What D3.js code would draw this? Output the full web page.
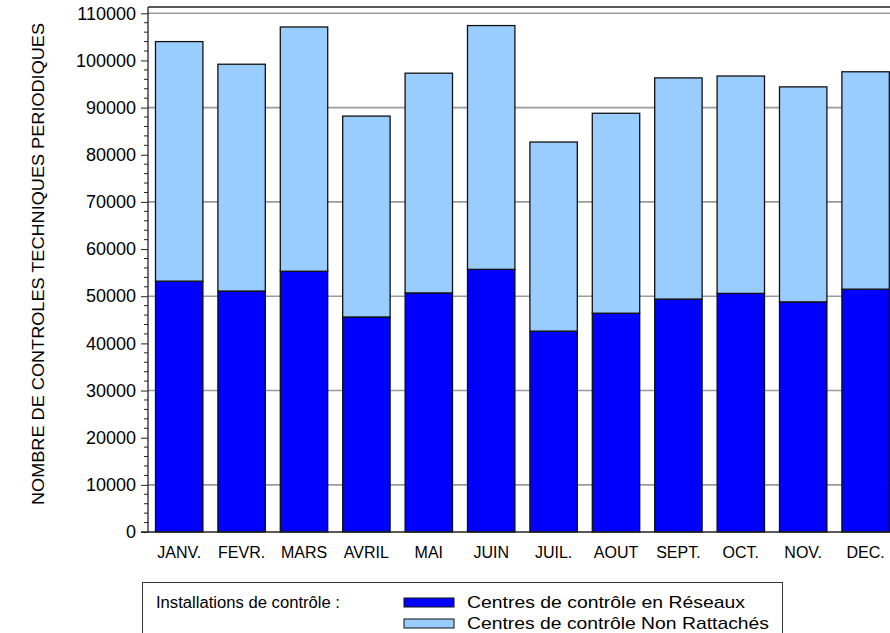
<!DOCTYPE html>
<html><head><meta charset="utf-8">
<script src="https://cdn.jsdelivr.net/npm/d3@7"></script>
<style>body{margin:0;background:#fff;} text{font-family:"Liberation Sans",Arial,sans-serif;fill:#000;}</style>
</head><body>
<svg id="c" width="890" height="633"></svg>
<script>
const months = ["JANV.","FEVR.","MARS","AVRIL","MAI","JUIN","JUIL.","AOUT","SEPT.","OCT.","NOV.","DEC."];
const reseaux = [53200,51100,55300,45600,50700,55700,42600,46400,49400,50600,48800,51500];
const nonRattaches = [50800,48100,51800,42600,46600,51700,40100,42400,46900,46100,45600,46100];
const yTicks = [0,10000,20000,30000,40000,50000,60000,70000,80000,90000,100000,110000];
const gridValues = [10000,30000,50000,70000,90000,110000];
const seriesNames = ["Centres de contrôle en Réseaux","Centres de contrôle Non Rattachés"];
const seriesColors = ["#0000ff","#99ccff"];
const legendTitle = "Installations de contrôle :";
const yTitle = "NOMBRE DE CONTROLES TECHNIQUES PERIODIQUES";

const svg = d3.select("#c");
const pLeft = 148, pRight = 896.8, pTop = 7, pBottom = 532;
const x = d3.scaleBand().domain(months).range([pLeft, pRight]).paddingInner(0.24).paddingOuter(0.12);
const y = d3.scaleLinear().domain([0,110000]).range([pBottom, 13.3]);

// gridlines
svg.append("g").selectAll("line").data(gridValues).join("line")
  .attr("x1", pLeft).attr("x2", 890).attr("y1", d=>y(d)).attr("y2", d=>y(d))
  .attr("stroke","#9a9a9a").attr("stroke-width",1.6);

// frame top
svg.append("line").attr("x1",pLeft).attr("x2",890).attr("y1",pTop).attr("y2",pTop).attr("stroke","#222").attr("stroke-width",1.3);

// bars
const table = months.map((m,i)=>({month:m, a:reseaux[i], b:nonRattaches[i]}));
const stack = d3.stack().keys(["a","b"])(table);
svg.append("g").selectAll("g").data(stack).join("g")
  .attr("fill",(d,i)=>seriesColors[i])
  .selectAll("rect").data(d=>d).join("rect")
  .attr("x", d=>x(d.data.month)).attr("width", x.bandwidth())
  .attr("y", d=>y(d[1])).attr("height", d=>y(d[0])-y(d[1]))
  .attr("stroke","#111").attr("stroke-width",1.3);

// y axis
const yAxis = d3.axisLeft(y).tickValues(yTicks).tickFormat(d3.format("d")).tickSize(7).tickPadding(5);
const gy = svg.append("g").attr("transform",`translate(${pLeft},0)`).call(yAxis);
gy.select(".domain").remove();
gy.selectAll("text").style("font-size","18px").style("font-family","'Liberation Sans',Arial,sans-serif");
gy.selectAll("line").attr("stroke","#222");
// minor ticks
const minor = d3.range(0,110001,2000).filter(v=>v%10000!==0);
svg.append("g").selectAll("line").data(minor).join("line")
  .attr("x1",pLeft-4).attr("x2",pLeft).attr("y1",d=>y(d)).attr("y2",d=>y(d)).attr("stroke","#222");
svg.append("line").attr("x1",pLeft).attr("x2",pLeft).attr("y1",pTop).attr("y2",pBottom).attr("stroke","#222").attr("stroke-width",1.3);
svg.append("line").attr("x1",pLeft-7).attr("x2",890).attr("y1",pBottom).attr("y2",pBottom).attr("stroke","#222").attr("stroke-width",1.3);

// x labels
const xAxis = d3.axisBottom(x).tickSize(0).tickPadding(15);
const gx = svg.append("g").attr("transform",`translate(0,${pBottom})`).call(xAxis);
gx.select(".domain").remove();
gx.selectAll("text").style("font-size","16px").style("font-family","'Liberation Sans',Arial,sans-serif");

// y title
svg.append("text").attr("transform","translate(44,264) rotate(-90)").attr("text-anchor","middle")
  .style("font-size","16px").attr("textLength",482).attr("lengthAdjust","spacingAndGlyphs").text(yTitle);

// legend
svg.append("rect").attr("x",142.5).attr("y",582.5).attr("width",640).attr("height",80).attr("fill","none").attr("stroke","#333");
svg.append("text").attr("x",156).attr("y",608).style("font-size","16px")
  .attr("textLength",184).attr("lengthAdjust","spacingAndGlyphs").text(legendTitle);
const legendWidths = [278, 302];
const lg = svg.append("g").selectAll("g").data(seriesNames).join("g")
  .attr("transform",(d,i)=>`translate(404,${598+i*21})`);
lg.append("rect").attr("width",50).attr("height",9).attr("fill",(d,i)=>seriesColors[i]).attr("stroke","#111");
lg.append("text").attr("x",63).attr("y",10).style("font-size","17px")
  .attr("textLength",(d,i)=>legendWidths[i]).attr("lengthAdjust","spacingAndGlyphs").text(d=>d);
</script>
</body></html>
